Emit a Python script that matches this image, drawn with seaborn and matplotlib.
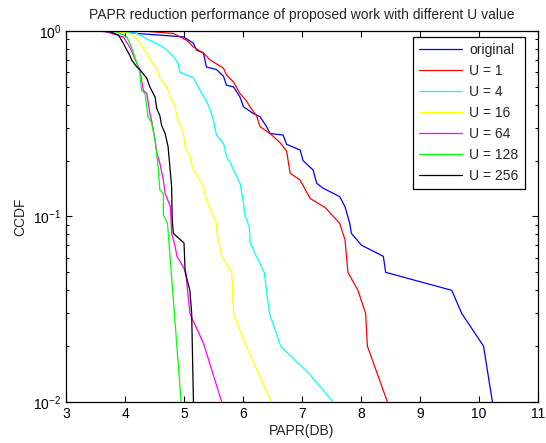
import matplotlib
matplotlib.use('Agg')
import matplotlib.pyplot as plt
import seaborn as sns
import pandas as pd

# CCDF curves (x = PAPR in dB, y = CCDF)
orig_x = [3.90, 4.20, 4.99, 5.16, 5.21, 5.33, 5.38, 5.55, 5.67, 5.72, 5.84, 5.95, 6.01, 6.17, 6.29, 6.40, 6.46, 6.68,
          6.74, 6.97, 7.02, 7.19, 7.25, 7.36, 7.64, 7.73, 7.81, 7.84, 8.01, 8.38, 8.42, 9.54, 9.71, 10.08, 10.23]
orig_y = [1.0, 0.97, 0.93, 0.86, 0.79, 0.76, 0.64, 0.62, 0.57, 0.51, 0.50, 0.44, 0.39, 0.36, 0.345, 0.305, 0.28, 0.275,
          0.245, 0.228, 0.20, 0.178, 0.151, 0.142, 0.128, 0.113, 0.092, 0.081, 0.070, 0.061, 0.050, 0.040, 0.030, 0.020, 0.010]

u1_x = [4.31, 4.82, 5.05, 5.16, 5.33, 5.44, 5.67, 5.72, 5.84, 5.95, 6.06, 6.12, 6.23, 6.29, 6.46, 6.63, 6.74, 6.80,
        6.97, 7.14, 7.39, 7.64, 7.73, 7.78, 7.95, 8.08, 8.11, 8.45]
u1_y = [1.0, 0.97, 0.89, 0.82, 0.76, 0.70, 0.63, 0.58, 0.53, 0.46, 0.42, 0.39, 0.35, 0.305, 0.28, 0.25, 0.225, 0.171,
        0.157, 0.125, 0.112, 0.092, 0.075, 0.050, 0.040, 0.030, 0.020, 0.010]

u4_x = [3.86, 4.20, 4.42, 4.59, 4.71, 4.82, 4.90, 4.93, 5.16, 5.27, 5.38, 5.44, 5.50, 5.55, 5.67, 5.72, 5.78, 5.84,
        5.95, 6.01, 6.03, 6.11, 6.12, 6.36, 6.45, 6.64, 7.14, 7.53]
u4_y = [1.0, 0.97, 0.89, 0.84, 0.79, 0.73, 0.67, 0.60, 0.56, 0.48, 0.42, 0.38, 0.33, 0.275, 0.248, 0.21, 0.197, 0.178,
        0.151, 0.118, 0.102, 0.088, 0.072, 0.050, 0.030, 0.020, 0.014, 0.010]

u16_x = [3.75, 3.92, 4.08, 4.20, 4.25, 4.37, 4.42, 4.54, 4.59, 4.71, 4.76, 4.85, 4.88, 4.99, 5.02, 5.10, 5.16, 5.33,
         5.38, 5.50, 5.55, 5.56, 5.64, 5.81, 5.84, 6.01, 6.48]
u16_y = [1.0, 0.99, 0.97, 0.91, 0.86, 0.76, 0.70, 0.63, 0.556, 0.50, 0.45, 0.39, 0.345, 0.28, 0.238, 0.21, 0.178, 0.145,
         0.123, 0.0997, 0.092, 0.081, 0.061, 0.050, 0.030, 0.0216, 0.010]

u64_x = [3.63, 3.97, 4.08, 4.20, 4.25, 4.31, 4.37, 4.42, 4.45, 4.51, 4.54, 4.59, 4.65, 4.68, 4.76, 4.77, 4.79, 4.85,
         4.88, 4.98, 5.03, 5.10, 5.33, 5.64]
u64_y = [1.0, 0.93, 0.82, 0.67, 0.62, 0.48, 0.46, 0.36, 0.33, 0.258, 0.22, 0.194, 0.157, 0.133, 0.115, 0.113, 0.081, 0.069,
         0.061, 0.054, 0.050, 0.030, 0.0207, 0.010]

u128_x = [3.46, 3.86, 4.03, 4.11, 4.20, 4.25, 4.28, 4.34, 4.39, 4.45, 4.51, 4.56, 4.59, 4.65, 4.65, 4.72, 4.82, 4.95]
u128_y = [1.0, 0.99, 0.93, 0.82, 0.67, 0.60, 0.48, 0.46, 0.345, 0.32, 0.258, 0.186, 0.139, 0.133, 0.102, 0.092, 0.0355, 0.010]

u256_x = [3.46, 3.75, 3.89, 3.97, 4.03, 4.08, 4.11, 4.20, 4.25, 4.37, 4.42, 4.51, 4.54, 4.59, 4.62, 4.68, 4.73, 4.76,
          4.79, 4.80, 4.82, 5.00, 5.02, 5.10, 5.13, 5.16]
u256_y = [1.0, 0.99, 0.95, 0.86, 0.79, 0.74, 0.70, 0.64, 0.62, 0.556, 0.50, 0.44, 0.38, 0.35, 0.31, 0.28, 0.238, 0.186,
          0.145, 0.096, 0.081, 0.072, 0.050, 0.040, 0.030, 0.010]

labels = ['original', 'U = 1', 'U = 4', 'U = 16', 'U = 64', 'U = 128', 'U = 256']
colors = ['blue', 'red', 'cyan', 'yellow', 'magenta', 'lime', 'black']
series = [(orig_x, orig_y), (u1_x, u1_y), (u4_x, u4_y), (u16_x, u16_y),
          (u64_x, u64_y), (u128_x, u128_y), (u256_x, u256_y)]

frames = []
for lab, (xs, ys) in zip(labels, series):
    frames.append(pd.DataFrame({'PAPR': xs, 'CCDF': ys, 'series': lab}))
df = pd.concat(frames, ignore_index=True)

sns.set_style("white")
plt.rcParams['font.family'] = ['Liberation Sans', 'DejaVu Sans']

fig = plt.figure(figsize=(5.46, 4.43), dpi=100)
ax = fig.add_axes([0.121, 0.0926, 0.864, 0.8374])

for lab, col in zip(labels, colors):
    sub = df[df['series'] == lab]
    sns.lineplot(data=sub, x='PAPR', y='CCDF', color=col, label=lab, sort=False,
                 estimator=None, linewidth=0.9, ax=ax)

ax.set_yscale('log')
ax.set_xlim(3, 11)
ax.set_ylim(0.01, 1)
ax.set_xticks(range(3, 12))
ax.tick_params(which='both', direction='in', top=True, right=True, bottom=True, left=True,
               labelsize=10, colors='black')
ax.tick_params(which='major', length=4.5, width=0.8)
ax.tick_params(which='minor', length=2.5, width=0.8)
for s in ax.spines.values():
    s.set_color('black')
    s.set_linewidth(0.9)

ax.set_title('PAPR reduction performance of proposed work with different U value', fontsize=10, pad=9)
ax.set_xlabel('PAPR(DB)', fontsize=10, labelpad=2)
ax.set_ylabel('CCDF', fontsize=10, labelpad=4)

leg = ax.legend(loc='upper right', bbox_to_anchor=(0.972, 0.984), fontsize=10, fancybox=False,
                framealpha=1, edgecolor='black', borderaxespad=0, handlelength=3.1,
                handletextpad=0.5, labelspacing=0.5, borderpad=0.45)
leg.get_frame().set_linewidth(0.9)

fig.savefig('out.png', dpi=100)
